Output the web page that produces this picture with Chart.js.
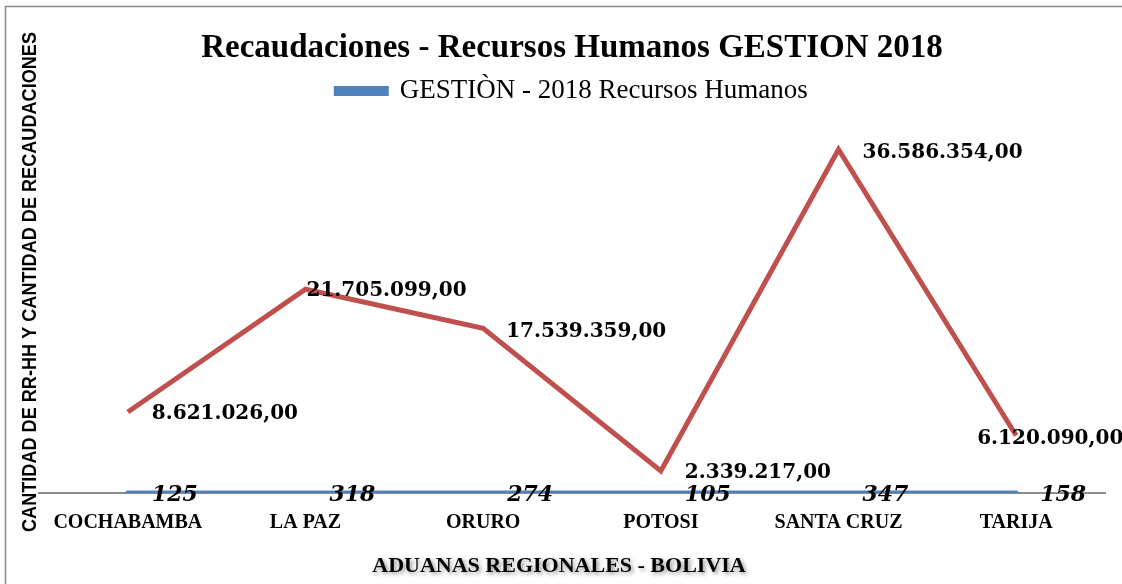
<!DOCTYPE html>
<html>
<head>
<meta charset="utf-8">
<title>Recaudaciones - Recursos Humanos GESTION 2018</title>
<script src="https://cdn.jsdelivr.net/npm/chart.js@4.4.1/dist/chart.umd.min.js"></script>
<style>
    html, body { margin: 0; padding: 0; background: #ffffff; }
    #wrap { width: 1122px; height: 584px; }
</style>
</head>
<body>
<div id="wrap"><canvas id="myChart" width="1122" height="584"></canvas></div>
<script>
const aduanas = ["COCHABAMBA", "LA PAZ", "ORURO", "POTOSI", "SANTA CRUZ", "TARIJA"];
const recursosHumanos = [125, 318, 274, 105, 347, 158];
const recaudaciones = [8621026, 21705099, 17539359, 2339217, 36586354, 6120090];
const yMax = 40300000;

const serif = "'Liberation Serif', serif";
const numSerif = "'DejaVu Serif', serif";

function formatBs(value) {
    const parts = value.toFixed(2).split(".");
    return parts[0].replace(/\B(?=(\d{3})+(?!\d))/g, ".") + "," + parts[1];
}

// value labels next to every point
const valueLabels = {
    id: "valueLabels",
    afterDatasetsDraw(chart, args, opts) {
        const ctx = chart.ctx;
        chart.data.datasets.forEach((ds, i) => {
            const meta = chart.getDatasetMeta(i);
            const style = opts.styles[i];
            ctx.save();
            ctx.font = style.font;
            ctx.fillStyle = "#000000";
            ctx.textAlign = "left";
            ctx.textBaseline = "middle";
            meta.data.forEach((pt, j) => {
                const off = style.offsets[j] || style.offsets[0];
                const txt = style.format(ds.data[j]);
                ctx.fillText(txt, pt.x + off[0], pt.y + off[1]);
            });
            ctx.restore();
        });
    }
};

// frame, y-axis title and x-axis title with shadow
const frameAndTitles = {
    id: "frameAndTitles",
    beforeDraw(chart) {
        const ctx = chart.ctx;
        ctx.save();
        ctx.strokeStyle = "#8c8c8c";
        ctx.lineWidth = 1.5;
        ctx.beginPath();
        ctx.moveTo(5.5, 700);
        ctx.lineTo(5.5, 6.5);
        ctx.lineTo(1200, 6.5);
        ctx.stroke();
        ctx.restore();
    },
    afterDraw(chart) {
        const ctx = chart.ctx;
        const yTitle = "CANTIDAD DE RR-HH Y CANTIDAD DE RECAUDACIONES";
        ctx.save();
        ctx.font = "bold 21px 'Liberation Sans', Arial, sans-serif";
        const w = ctx.measureText(yTitle).width;
        ctx.translate(30, 282);
        ctx.rotate(-Math.PI / 2);
        ctx.scale(500 / w, 1);
        ctx.fillStyle = "#000000";
        ctx.textAlign = "center";
        ctx.textBaseline = "middle";
        ctx.fillText(yTitle, 0, 0);
        ctx.restore();

        ctx.save();
        ctx.font = "bold 22px " + serif;
        ctx.fillStyle = "#000000";
        ctx.textAlign = "center";
        ctx.textBaseline = "middle";
        ctx.shadowColor = "rgba(0,0,0,0.45)";
        ctx.shadowBlur = 4;
        ctx.shadowOffsetX = 2;
        ctx.shadowOffsetY = 2;
        ctx.fillText("ADUANAS REGIONALES - BOLIVIA", 559, 566);
        ctx.restore();
    }
};

const ctx = document.getElementById("myChart");

const chart = new Chart(ctx, {
    type: "line",
    data: {
        labels: aduanas,
        datasets: [{
            label: "GESTIÒN - 2018 Recursos Humanos",
            data: recursosHumanos,
            borderColor: "#4F81BD",
            backgroundColor: "#4F81BD",
            borderWidth: 5,
            borderCapStyle: "round",
            pointRadius: 0,
            tension: 0,
        }, {
            label: "Recaudaciones",
            data: recaudaciones,
            borderColor: "#C0504D",
            backgroundColor: "#C0504D",
            borderWidth: 5,
            pointRadius: 0,
            tension: 0,
        }],
    },
    options: {
        responsive: false,
        animation: false,
        devicePixelRatio: 1,
        layout: { padding: { left: 39, right: 17, top: 0, bottom: 0 } },
        scales: {
            x: {
                offset: true,
                grid: { display: false },
                border: { color: "#8c8c8c", width: 2 },
                ticks: {
                    color: "#000000",
                    padding: 10,
                    font: { family: serif, size: 20, weight: "bold" },
                    maxRotation: 0,
                },
                afterFit: scale => { scale.height = 91; },
            },
            y: {
                display: false,
                min: 0,
                max: yMax,
            },
        },
        plugins: {
            title: {
                display: true,
                text: "Recaudaciones - Recursos Humanos GESTION 2018",
                color: "#000000",
                font: { family: serif, size: 33, weight: "bold" },
                padding: { top: 29, bottom: 2 },
            },
            legend: {
                display: true,
                labels: {
                    color: "#000000",
                    font: { family: serif, size: 27 },
                    boxWidth: 50,
                    boxHeight: 5,
                    padding: 7,
                    filter: item => item.datasetIndex === 0,
                },
            },
            tooltip: { enabled: false },
            valueLabels: {
                styles: [{
                    font: "italic bold 22px " + numSerif,
                    offsets: [[24, 2]],
                    format: v => String(v),
                }, {
                    font: "bold 20px " + numSerif,
                    offsets: [[24, 2], [1, 2], [23, 3], [24, 2], [24, 3], [-39, 3]],
                    format: formatBs,
                }],
            },
        },
    },
    plugins: [valueLabels, frameAndTitles],
});
</script>
</body>
</html>
